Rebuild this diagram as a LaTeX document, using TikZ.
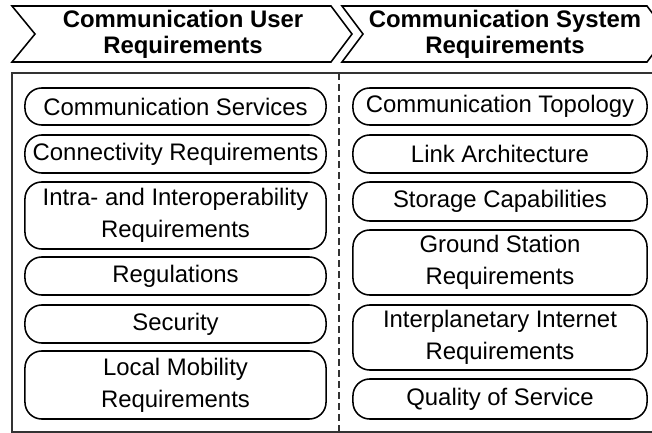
\documentclass[tikz,border=0pt]{standalone}
\usepackage{fontspec}
\setmainfont{Liberation Sans}
\tikzset{
  banner/.style={draw=black, line width=1.1pt, line join=miter},
  bannerlabel/.style={font=\bfseries\fontsize{17}{18.5}\selectfont, align=center, inner sep=0pt},
  frame/.style={draw=black!80, line width=0.9pt},
  divider/.style={draw=black!80, line width=0.9pt, dash pattern=on 0.175cm off 0.1cm},
  req/.style={draw=black, line width=1.1pt, rounded corners=0.42cm, align=center, inner sep=0pt, font=\fontsize{17}{22.5}\selectfont},
  reqleft/.style={req, minimum width=7.525cm},
  reqright/.style={req, minimum width=7.35cm},
}

\begin{document}
\begin{tikzpicture}[x=0.025cm, y=-0.025cm]
\useasboundingbox (0,0) rectangle (652,433);
% headline chevrons
\draw[banner] (12,6) -- (331,6) -- (352,34) -- (331,62) -- (12,62) -- (35,34) -- cycle;
\draw[banner] (342,6) -- (647,6) -- (668,34) -- (647,62) -- (342,62) -- (363,34) -- cycle;
\node[bannerlabel] (huser) at (183,34) {Communication User\\Requirements};
\node[bannerlabel] (hsys) at (505,34) {Communication System\\Requirements};
% frame and divider
\draw[frame] (660,73) -- (12,73) -- (12,432) -- (660,432);
\draw[divider] (339,73) -- (339,432);
% user side
\node[reqleft, minimum height=0.925cm] (csrv) at (175.5,106.5) {Communication Services};
\node[reqleft, minimum height=0.95cm] (conn) at (175.5,154) {Connectivity Requirements};
\node[reqleft, minimum height=1.675cm] (intra) at (175.5,215.5) {Intra- and Interoperability\\Requirements};
\node[reqleft, minimum height=0.95cm] (regul) at (175.5,276) {Regulations};
\node[reqleft, minimum height=0.95cm] (secur) at (175.5,324) {Security};
\node[reqleft, minimum height=1.7cm] (mobil) at (175.5,385) {Local Mobility\\Requirements};
% system side
\node[reqright, minimum height=0.925cm] (topo) at (500,106.5) {Communication Topology};
\node[reqright, minimum height=0.95cm] (link) at (500,154) {Link Architecture};
\node[reqright, minimum height=0.975cm] (stor) at (500,201.5) {Storage Capabilities};
\node[reqright, minimum height=1.625cm] (grnd) at (500,262.5) {Ground Station\\Requirements};
\node[reqright, minimum height=1.625cm] (ipn) at (500,337.5) {Interplanetary Internet\\Requirements};
\node[reqright, minimum height=1.0cm] (qos) at (500,399) {Quality of Service};
\end{tikzpicture}
\end{document}
